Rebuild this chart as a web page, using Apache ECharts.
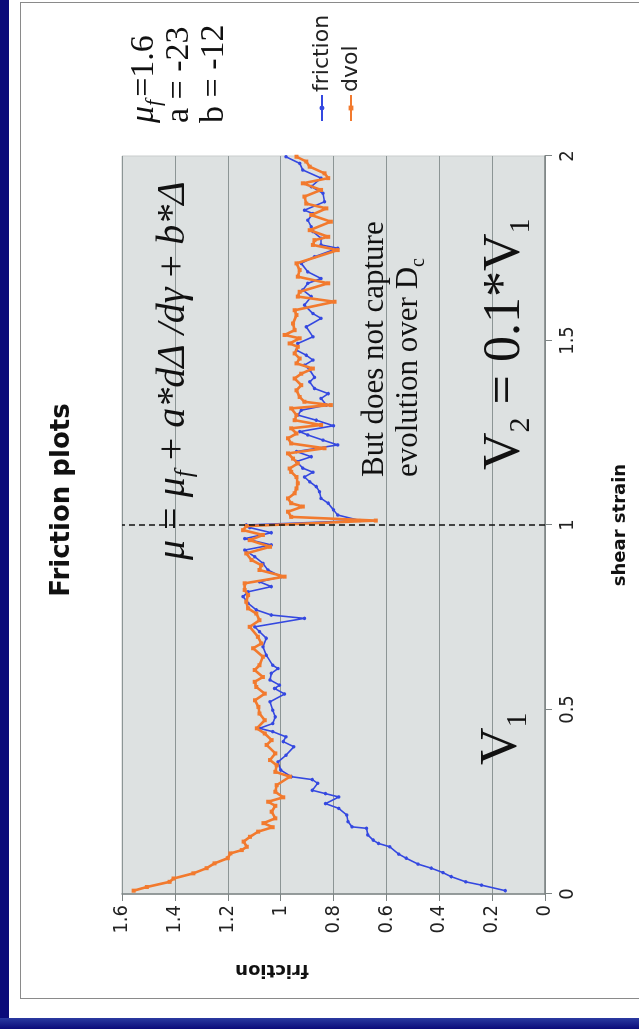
<!DOCTYPE html>
<html>
<head>
<meta charset="utf-8">
<script src="https://cdn.jsdelivr.net/npm/echarts@6/dist/echarts.min.js"></script>
<style>
  html, body { margin: 0; padding: 0; background: #ffffff; }
  body { width: 639px; height: 1029px; position: relative; overflow: hidden; }
  .navy-left { position: absolute; left: 0; top: 0; width: 9px; height: 1029px; background: #0b0b7a; }
  .navy-bottom { position: absolute; left: 0; top: 1018px; width: 639px; height: 11px; background: linear-gradient(#2a3aa0, #0b0b7a); }
  .frame { position: absolute; left: 20px; top: 2px; width: 640px; height: 997px; border: 1px solid #8a8a8a; box-sizing: border-box; }
  /* the chart is laid out landscape and turned a quarter turn counter-clockwise */
  #chart { position: absolute; left: 0; top: 0; width: 1029px; height: 639px;
           transform-origin: 0 0; transform: translate(0px, 1029px) rotate(-90deg); }
</style>
</head>
<body>
<div class="navy-left"></div>
<div class="frame"></div>
<div class="navy-bottom"></div>
<div id="chart"></div>
<script>
// shear strain positions and friction values of the "friction" series
const frictionStrain = [0.009,0.024,0.033,0.047,0.058,0.070,0.081,0.097,0.108,0.128,
  0.137,0.146,0.160,0.178,0.182,0.196,0.214,0.232,0.245,0.263,
  0.272,0.281,0.300,0.310,0.318,0.336,0.358,0.376,0.399,0.413,
  0.426,0.440,0.449,0.462,0.480,0.498,0.521,0.542,0.557,0.566,
  0.580,0.598,0.611,0.620,0.647,0.670,0.693,0.711,0.724,0.747,
  0.756,0.770,0.788,0.806,0.819,0.833,0.846,0.860,0.878,0.896,
  0.914,0.932,0.946,0.963,0.979,0.993,1.000,1.012,1.027,1.041,
  1.059,1.072,1.090,1.104,1.117,1.130,1.143,1.154,1.172,1.185,
  1.199,1.217,1.230,1.244,1.253,1.269,1.284,1.298,1.311,1.325,
  1.343,1.356,1.370,1.388,1.400,1.420,1.433,1.447,1.460,1.474,
  1.492,1.510,1.537,1.560,1.573,1.596,1.619,1.637,1.655,1.668,
  1.686,1.709,1.727,1.750,1.759,1.777,1.795,1.808,1.826,1.844,
  1.853,1.876,1.899,1.917,1.940,1.962,1.980,1.998];
const frictionValues = [0.15,0.24,0.30,0.355,0.386,0.43,0.48,0.525,0.553,0.587,
  0.63,0.65,0.67,0.675,0.73,0.745,0.75,0.78,0.83,0.78,
  0.83,0.88,0.86,0.88,0.96,1.0,1.01,0.98,0.95,0.99,
  0.98,1.03,1.08,1.03,1.02,1.03,1.04,0.985,1.023,1.004,
  1.04,1.035,1.01,1.03,1.054,1.067,1.054,1.08,1.098,0.91,
  1.035,1.092,1.123,1.142,1.123,1.035,1.08,0.997,1.048,1.067,
  1.098,1.136,1.035,1.136,1.035,1.117,1.13,0.70,0.784,0.80,
  0.82,0.847,0.853,0.865,0.89,0.91,0.878,0.916,0.94,0.884,
  0.94,0.784,0.84,0.897,0.928,0.80,0.865,0.935,0.922,0.827,
  0.847,0.82,0.872,0.89,0.872,0.89,0.91,0.878,0.903,0.94,
  0.935,0.878,0.903,0.847,0.878,0.91,0.884,0.916,0.897,0.847,
  0.897,0.922,0.872,0.784,0.847,0.847,0.878,0.884,0.897,0.878,
  0.91,0.834,0.84,0.884,0.847,0.916,0.928,0.98];

// shear strain positions and values of the "dvol" model series
const dvolStrain = [0.009,0.019,0.033,0.042,0.056,0.070,0.083,0.097,0.110,0.119,
  0.128,0.142,0.155,0.169,0.181,0.192,0.205,0.223,0.239,0.250,
  0.262,0.277,0.295,0.318,0.331,0.349,0.363,0.381,0.404,0.417,
  0.435,0.449,0.471,0.489,0.507,0.525,0.543,0.561,0.575,0.588,
  0.607,0.620,0.643,0.666,0.679,0.697,0.724,0.742,0.760,0.774,
  0.792,0.810,0.824,0.842,0.860,0.878,0.891,0.905,0.923,0.941,
  0.959,0.973,0.986,0.997,1.012,1.022,1.036,1.050,1.059,1.072,
  1.086,1.099,1.113,1.130,1.144,1.153,1.167,1.180,1.194,1.208,
  1.221,1.235,1.248,1.262,1.271,1.284,1.298,1.316,1.325,1.334,
  1.347,1.365,1.379,1.397,1.410,1.424,1.438,1.451,1.465,1.483,
  1.492,1.506,1.515,1.528,1.546,1.569,1.582,1.605,1.619,1.632,
  1.655,1.673,1.691,1.709,1.745,1.759,1.772,1.781,1.799,1.822,
  1.840,1.858,1.871,1.890,1.908,1.926,1.940,1.953,1.971,1.985,
  1.998];
const dvolValues = [1.556,1.506,1.42,1.405,1.33,1.28,1.25,1.20,1.19,1.147,
  1.128,1.14,1.116,1.085,1.03,1.065,1.02,1.034,1.02,1.047,
  0.99,1.02,1.015,0.965,1.02,1.015,1.04,1.02,1.053,1.034,
  1.06,1.09,1.06,1.08,1.084,1.097,1.06,1.092,1.098,1.067,
  1.098,1.08,1.067,1.104,1.073,1.086,1.117,1.08,1.092,1.123,
  1.13,1.123,1.136,1.136,0.985,1.08,1.073,1.11,1.13,1.04,
  1.117,1.067,1.142,1.13,0.64,0.96,0.972,0.916,0.96,0.972,
  0.947,0.94,0.935,0.94,0.96,0.966,0.935,0.953,0.972,0.834,
  0.96,0.972,0.94,0.96,0.847,0.947,0.94,0.96,0.81,0.91,
  0.928,0.94,0.922,0.947,0.922,0.878,0.94,0.928,0.947,0.935,
  0.966,0.928,0.985,0.947,0.953,0.94,0.947,0.796,0.935,0.928,
  0.82,0.935,0.928,0.94,0.784,0.878,0.872,0.82,0.89,0.81,
  0.884,0.827,0.903,0.91,0.847,0.916,0.82,0.834,0.89,0.903,
  0.94];

const seriesNames = ['friction', 'dvol'];
const strainTicks = [0, 0.5, 1, 1.5, 2];
const frictionTicks = [0, 0.2, 0.4, 0.6, 0.8, 1, 1.2, 1.4, 1.6];
const velocityStep = 1;   // strain at which the sliding velocity drops

const pairs = (xs, ys) => xs.map((x, i) => [x, ys[i]]);

const SANS = 'DejaVu Sans';
const COND = 'DejaVu Sans Condensed, DejaVu Sans';
const SERIF = 'Liberation Serif';
const BLUE = '#3448e0';
const ORANGE = '#f27a2e';

const chart = echarts.init(document.getElementById('chart'), null, { width: 1029, height: 639, renderer: 'canvas' });

const sub = (size, lh) => ({ fontFamily: SERIF, fontStyle: 'italic', fontSize: size, lineHeight: lh, verticalAlign: 'bottom' });

chart.setOption({
  animation: false,
  backgroundColor: 'transparent',
  grid: { left: 135, right: 156, top: 122, bottom: 94, show: true,
          backgroundColor: '#dde1e1', borderColor: '#c9cdcd', borderWidth: 1 },
  xAxis: {
    type: 'value', min: strainTicks[0], max: strainTicks[strainTicks.length - 1], interval: 0.5,
    name: 'shear strain', nameLocation: 'middle', nameGap: 66,
    nameTextStyle: { fontFamily: SANS, fontWeight: 'bold', fontSize: 18, color: '#111' },
    axisLine: { show: true, lineStyle: { color: '#7d8484', width: 1.5 } },
    axisTick: { show: true, length: 7, lineStyle: { color: '#7d8484' } },
    axisLabel: { fontFamily: COND, fontSize: 20, color: '#222', margin: 13,
                 formatter: v => String(parseFloat(v.toFixed(1))) },
    splitLine: { show: false }
  },
  yAxis: {
    type: 'value', min: frictionTicks[0], max: frictionTicks[frictionTicks.length - 1], interval: 0.2,
    axisLine: { show: true, lineStyle: { color: '#7d8484', width: 1.5 } },
    axisTick: { show: true, length: 7, lineStyle: { color: '#7d8484' } },
    axisLabel: { fontFamily: COND, fontSize: 20, color: '#222', margin: 11,
                 formatter: v => String(parseFloat(v.toFixed(1))) },
    splitLine: { show: true, lineStyle: { color: '#8c9595', width: 1 } }
  },
  legend: {
    orient: 'vertical', left: 902, top: 306, itemGap: 7,
    itemWidth: 26, itemHeight: 6,
    textStyle: { fontFamily: SANS, fontSize: 22, color: '#222', padding: [0, 0, 0, -2] },
    data: seriesNames
  },
  series: [
    { name: seriesNames[0], type: 'line', data: pairs(frictionStrain, frictionValues),
      color: BLUE, symbol: 'circle', symbolSize: 3.5, showSymbol: true,
      lineStyle: { width: 1.6, color: BLUE }, itemStyle: { color: BLUE }, z: 2 },
    { name: seriesNames[1], type: 'line', data: pairs(dvolStrain, dvolValues),
      color: ORANGE, symbol: 'rect', symbolSize: 4, showSymbol: true,
      lineStyle: { width: 2.6, color: ORANGE }, itemStyle: { color: ORANGE }, z: 3,
      markLine: { silent: true, symbol: 'none', label: { show: false },
                  lineStyle: { color: '#111', type: [6, 4], width: 1.5 },
                  data: [{ xAxis: velocityStep }] } }
  ],
  graphic: [
    { type: 'text', x: 529, y: 62, z: 10,
      style: { text: 'Friction plots', font: 'bold 26px "DejaVu Sans"', fill: '#111',
               textAlign: 'center', textVerticalAlign: 'middle' } },
    { type: 'text', x: 59, y: 272, rotation: Math.PI / 2, z: 10,
      style: { text: 'friction', font: 'bold 18px "DejaVu Sans"', fill: '#111',
               textAlign: 'center', textVerticalAlign: 'middle' } },
    // model parameters
    { type: 'text', x: 906, y: 144, z: 10,
      style: { text: '{i|μ}{s|f}=1.6', font: '34px "Liberation Serif"', fill: '#111',
               textAlign: 'left', textVerticalAlign: 'middle',
               rich: { i: { fontFamily: SERIF, fontStyle: 'italic', fontSize: 34, lineHeight: 42 },
                       s: Object.assign(sub(22, 42), { padding: [0, 3, 0, 0] }) } } },
    { type: 'text', x: 906, y: 179, z: 10,
      style: { text: 'a = -23', font: '34px "Liberation Serif"', fill: '#111', textAlign: 'left', textVerticalAlign: 'middle' } },
    { type: 'text', x: 906, y: 214, z: 10,
      style: { text: 'b = -12', font: '34px "Liberation Serif"', fill: '#111', textAlign: 'left', textVerticalAlign: 'middle' } },
    // constitutive relation
    { type: 'text', x: 469, y: 173, z: 10,
      style: { text: '{i|μ} = {i|μ}{s|f} + {i|a*dΔ /dγ} + {i|b*Δ}', font: '40px "Liberation Serif"', fill: '#111',
               textAlign: 'left', textVerticalAlign: 'middle',
               rich: { i: { fontFamily: SERIF, fontStyle: 'italic', fontSize: 40, lineHeight: 50 },
                       s: sub(25, 50) } } },
    { type: 'text', x: 552, y: 375, z: 10,
      style: { text: 'But does not capture', font: '31px "Liberation Serif"', fill: '#111', textAlign: 'left', textVerticalAlign: 'middle' } },
    { type: 'text', x: 552, y: 409, z: 10,
      style: { text: 'evolution over D{s|c}', font: '31px "Liberation Serif"', fill: '#111', textAlign: 'left', textVerticalAlign: 'middle',
               rich: { s: { fontFamily: SERIF, fontSize: 20, lineHeight: 40, verticalAlign: 'bottom' } } } },
    { type: 'text', x: 559, y: 505, z: 10,
      style: { text: 'V{s|2} = 0.1*V{s|1}', font: '52px "Liberation Serif"', fill: '#111', textAlign: 'left', textVerticalAlign: 'middle',
               rich: { s: { fontFamily: SERIF, fontSize: 30, lineHeight: 62, verticalAlign: 'bottom' } } } },
    { type: 'text', x: 264, y: 502, z: 10,
      style: { text: 'V{s|1}', font: '52px "Liberation Serif"', fill: '#111', textAlign: 'left', textVerticalAlign: 'middle',
               rich: { s: { fontFamily: SERIF, fontSize: 30, lineHeight: 62, verticalAlign: 'bottom' } } } }
  ]
});
</script>
</body>
</html>
